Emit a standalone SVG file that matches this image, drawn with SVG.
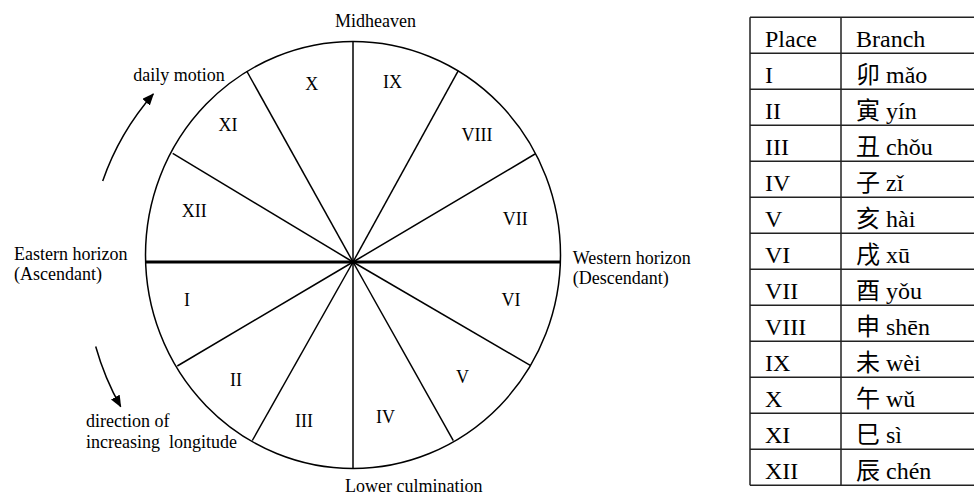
<svg xmlns="http://www.w3.org/2000/svg" width="974" height="497" viewBox="0 0 974 497">
<style>
.lbl{font-family:"Liberation Serif","Times New Roman",serif;font-size:18px;fill:#000}
.num{font-family:"Liberation Serif","Times New Roman",serif;font-size:18px;fill:#000;text-anchor:middle}
.tb{font-family:"Liberation Serif","Noto Sans CJK SC",serif;font-size:24px;fill:#000}
.ln{stroke:#000;stroke-width:1.5;fill:none}
.tl{stroke:#222;stroke-width:1.5;fill:none}
</style>
<defs>
<marker id="ah" viewBox="0 0 12 10" refX="11" refY="5" markerWidth="12" markerHeight="10" markerUnits="userSpaceOnUse" orient="auto">
<path d="M0,0 L12,5 L0,10 Z" fill="#000"/>
</marker>
</defs>
<rect width="974" height="497" fill="#fff"/>
<g id="wheel">
<ellipse class="ln" cx="353" cy="255" rx="207.5" ry="213.5"/>
</g>
<g id="connectors">
<line class="ln" x1="353" y1="41.5" x2="353" y2="468.5"/>
<line x1="145.5" y1="262" x2="560.5" y2="262" stroke="#000" stroke-width="3"/>
<line class="ln" x1="353" y1="262" x2="246.7" y2="71"/>
<line class="ln" x1="353" y1="262" x2="172.7" y2="153.3"/>
<line class="ln" x1="353" y1="262" x2="458.3" y2="70.7"/>
<line class="ln" x1="353" y1="262" x2="535" y2="154"/>
<line class="ln" x1="353" y1="262" x2="177.3" y2="366"/>
<line class="ln" x1="353" y1="262" x2="252.3" y2="440.5"/>
<line class="ln" x1="353" y1="262" x2="530.7" y2="365.7"/>
<line class="ln" x1="353" y1="262" x2="453.3" y2="440.7"/>
<path class="ln" d="M102.7,181 A262,262 0 0 1 153.3,94" marker-end="url(#ah)"/>
<path class="ln" d="M95.7,346.5 A272,272 0 0 0 120.7,406.7" marker-end="url(#ah)"/>
</g>
<g id="house-labels">
<text class="num" x="311.7" y="90">X</text>
<text class="num" x="228" y="130.7">XI</text>
<text class="num" x="392.5" y="88.3">IX</text>
<text class="num" x="477" y="141">VIII</text>
<text class="num" x="194.3" y="216.7">XII</text>
<text class="num" x="515.3" y="225">VII</text>
<text class="num" x="187" y="306">I</text>
<text class="num" x="511" y="306">VI</text>
<text class="num" x="236" y="385.7">II</text>
<text class="num" x="462.5" y="382.7">V</text>
<text class="num" x="304" y="426.7">III</text>
<text class="num" x="385.5" y="423.3">IV</text>
</g>
<g id="midheaven"><text class="lbl" x="335" y="27">Midheaven</text></g>
<g id="lower-culmination"><text class="lbl" x="345" y="492">Lower culmination</text></g>
<g id="eastern-horizon"><text class="lbl" x="14" y="259.5">Eastern horizon</text><text class="lbl" x="14" y="280">(Ascendant)</text></g>
<g id="western-horizon"><text class="lbl" x="572.7" y="264.3">Western horizon</text><text class="lbl" x="572.7" y="284">(Descendant)</text></g>
<g id="daily-motion"><text class="lbl" x="133.3" y="80.5">daily motion</text></g>
<g id="direction"><text class="lbl" x="86" y="426.7">direction of</text><text class="lbl" x="86" y="448.3" style="white-space:pre">increasing  longitude</text></g>
<g id="table">
<line class="tl" x1="750" y1="17.3" x2="750" y2="485.3"/>
<line class="tl" x1="841" y1="17.3" x2="841" y2="485.3"/>
<line class="tl" x1="750" y1="17.3" x2="974" y2="17.3"/>
<line class="tl" x1="750" y1="53.3" x2="974" y2="53.3"/>
<line class="tl" x1="750" y1="89.3" x2="974" y2="89.3"/>
<line class="tl" x1="750" y1="125.3" x2="974" y2="125.3"/>
<line class="tl" x1="750" y1="161.3" x2="974" y2="161.3"/>
<line class="tl" x1="750" y1="197.3" x2="974" y2="197.3"/>
<line class="tl" x1="750" y1="233.3" x2="974" y2="233.3"/>
<line class="tl" x1="750" y1="269.3" x2="974" y2="269.3"/>
<line class="tl" x1="750" y1="305.3" x2="974" y2="305.3"/>
<line class="tl" x1="750" y1="341.3" x2="974" y2="341.3"/>
<line class="tl" x1="750" y1="377.3" x2="974" y2="377.3"/>
<line class="tl" x1="750" y1="413.3" x2="974" y2="413.3"/>
<line class="tl" x1="750" y1="449.3" x2="974" y2="449.3"/>
<line class="tl" x1="750" y1="485.3" x2="974" y2="485.3"/>
<g id="row-head"><text class="tb" x="765" y="46.7">Place</text><text class="tb" x="856" y="46.7">Branch</text></g>
<g id="row-1"><text class="tb" x="765" y="82.7">I</text><text class="tb" x="856" y="82.7">卯 mǎo</text></g>
<g id="row-2"><text class="tb" x="765" y="118.7">II</text><text class="tb" x="856" y="118.7">寅 yín</text></g>
<g id="row-3"><text class="tb" x="765" y="154.7">III</text><text class="tb" x="856" y="154.7">丑 chǒu</text></g>
<g id="row-4"><text class="tb" x="765" y="190.7">IV</text><text class="tb" x="856" y="190.7">子 zǐ</text></g>
<g id="row-5"><text class="tb" x="765" y="226.7">V</text><text class="tb" x="856" y="226.7">亥 hài</text></g>
<g id="row-6"><text class="tb" x="765" y="262.7">VI</text><text class="tb" x="856" y="262.7">戌 xū</text></g>
<g id="row-7"><text class="tb" x="765" y="298.7">VII</text><text class="tb" x="856" y="298.7">酉 yǒu</text></g>
<g id="row-8"><text class="tb" x="765" y="334.7">VIII</text><text class="tb" x="856" y="334.7">申 shēn</text></g>
<g id="row-9"><text class="tb" x="765" y="370.7">IX</text><text class="tb" x="856" y="370.7">未 wèi</text></g>
<g id="row-10"><text class="tb" x="765" y="406.7">X</text><text class="tb" x="856" y="406.7">午 wǔ</text></g>
<g id="row-11"><text class="tb" x="765" y="442.7">XI</text><text class="tb" x="856" y="442.7">巳 sì</text></g>
<g id="row-12"><text class="tb" x="765" y="478.7">XII</text><text class="tb" x="856" y="478.7">辰 chén</text></g>
</g>
</svg>
